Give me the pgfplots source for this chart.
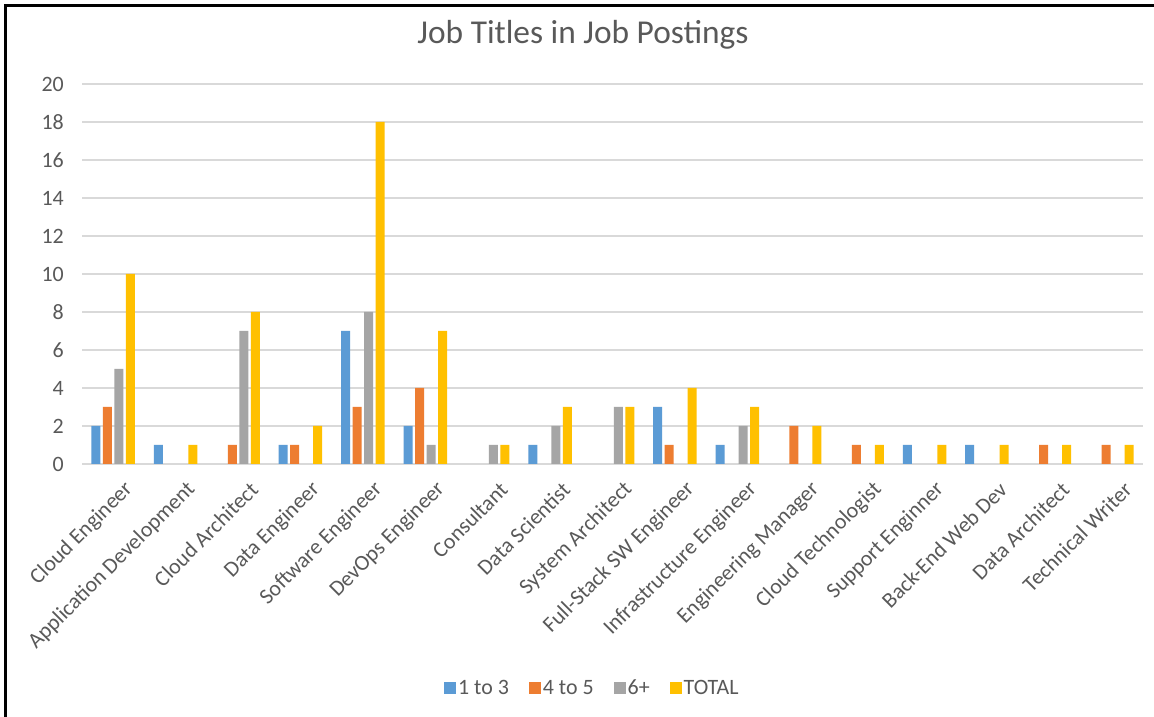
\documentclass[border=0pt]{standalone}
\usepackage{fontspec}
\setmainfont{Carlito}
\usepackage{pgfplots}
\pgfplotsset{compat=1.18}
\definecolor{c1}{HTML}{5B9BD5}
\definecolor{c2}{HTML}{ED7D31}
\definecolor{c3}{HTML}{A5A5A5}
\definecolor{c4}{HTML}{FFC000}
\definecolor{txt}{HTML}{595959}
\definecolor{grd}{HTML}{D9D9D9}
\begin{document}
\begin{tikzpicture}
\useasboundingbox (0bp,0bp) rectangle (1154bp,717bp);
\fill[white] (0bp,0bp) rectangle (1154bp,717bp);
\draw[black, line width=3bp] (5bp,0bp) -- (5bp,711.5bp) -- (1154bp,711.5bp);
\node[txt, font=\fontsize{33.5}{38}\selectfont] at (583bp,682bp) {Job Titles in Job Postings};
\begin{axis}[
  at={(82bp,253bp)}, anchor=south west,
  scale only axis, width=1061bp, height=380bp,
  xmin=-0.5, xmax=16.5, ymin=0, ymax=20,
  ytick={0,2,...,20},
  xtick={0,...,16},
  xticklabels={Cloud Engineer, Application Development, Cloud Architect, Data Engineer, Software Engineer, DevOps Engineer, Consultant, Data Scientist, System Architect, Full-Stack SW Engineer, Infrastructure Engineer, Engineering Manager, Cloud Technologist, Support Enginner, Back-End Web Dev, Data Architect, Technical Writer},
  ymajorgrids, grid style={grd, line width=1.3bp},
  axis x line*=bottom, axis y line*=left,
  x axis line style={grd, line width=1.3bp, -},
  y axis line style={draw=none},
  major tick length=0pt,
  tick label style={txt, font=\fontsize{22}{26}\selectfont},
  /pgf/number format/assume math mode=true,
  yticklabel style={inner sep=0pt, xshift=-18bp},
  xticklabel style={rotate=45, anchor=east, inner sep=0pt, xshift=-4bp, yshift=-27bp},
  ybar=2.5bp, bar width=9bp,
  legend columns=4,
  legend style={draw=none, fill=none, at={(0.481,-0.589)}, anchor=center, font=\fontsize{22}{26}\selectfont, text=txt,
     /tikz/every even column/.append style={column sep=18bp}},
  legend image code/.code={\fill (-5bp,-6bp) rectangle (7bp,6bp);},
]
\addplot[fill=c1, draw=none] coordinates {(0,2)(1,1)(3,1)(4,7)(5,2)(7,1)(9,3)(10,1)(13,1)(14,1)};
\addplot[fill=c2, draw=none] coordinates {(0,3)(2,1)(3,1)(4,3)(5,4)(9,1)(11,2)(12,1)(15,1)(16,1)};
\addplot[fill=c3, draw=none] coordinates {(0,5)(2,7)(4,8)(5,1)(6,1)(7,2)(8,3)(10,2)};
\addplot[fill=c4, draw=none] coordinates {(0,10)(1,1)(2,8)(3,2)(4,18)(5,7)(6,1)(7,3)(8,3)(9,4)(10,3)(11,2)(12,1)(13,1)(14,1)(15,1)(16,1)};
\legend{1 to 3, 4 to 5, 6+, TOTAL}
\end{axis}
\end{tikzpicture}
\end{document}
